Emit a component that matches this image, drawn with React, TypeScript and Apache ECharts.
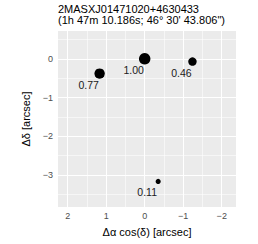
import React, { useEffect, useRef } from "react";
import * as echarts from "echarts";

const TITLE_LINE1 = "2MASXJ01471020+4630433";
const TITLE_LINE2 = "(1h 47m 10.186s; 46° 30' 43.806\")";
const pointLabels = ["1.00", "0.77", "0.46", "0.11"];
const weights = [1.0, 0.77, 0.46, 0.11];
const dRA = [0.0, 1.17, -1.24, -0.35];
const dDec = [0.0, -0.38, -0.07, -3.17];
const xTicks = [-2, -1, 0, 1, 2];
const yTicks = [-3, -2, -1, 0];
const xMinor = [-1.5, -0.5, 0.5, 1.5];
const yMinor = [-3.5, -2.5, -1.5, -0.5, 0.5];

const FONT = "Liberation Sans, Arial, sans-serif";
const fmt = (v: number) => String(v).replace("-", "\u2212");

export default function App() {
  const ref = useRef<HTMLDivElement>(null);
  useEffect(() => {
    if (!ref.current) return;
    const chart = echarts.init(ref.current, undefined, { renderer: "svg" });
    const gridLine = (vals: number[], key: string, width: number) =>
      vals.map((v) => ({ [key]: v, lineStyle: { color: "#ffffff", width, type: "solid" } }));
    chart.setOption({
      animation: false,
      backgroundColor: "#ffffff",
      title: {
        text: TITLE_LINE1 + "\n" + TITLE_LINE2,
        left: 58,
        top: 3,
        padding: 0,
        textStyle: {
          fontFamily: FONT,
          fontSize: 11,
          lineHeight: 11.5,
          fontWeight: "normal",
          color: "#000",
        },
      },
      grid: {
        left: 58,
        right: 22,
        top: 31,
        bottom: 37,
        show: true,
        backgroundColor: "#EBEBEB",
        borderWidth: 0,
      },
      xAxis: {
        type: "value",
        inverse: true,
        min: -2.37,
        max: 2.25,
        name: "\u0394\u03b1 cos(\u03b4) [arcsec]",
        nameLocation: "middle",
        nameGap: 19,
        nameTextStyle: { fontFamily: FONT, fontSize: 11, color: "#000" },
        axisLine: { show: false },
        splitLine: { show: false },
        axisTick: { show: true, length: 3, customValues: xTicks, lineStyle: { color: "#333333", width: 1 } },
        axisLabel: {
          customValues: xTicks,
          formatter: fmt,
          margin: 4,
          fontFamily: FONT,
          fontSize: 9,
          color: "#4D4D4D",
        },
      },
      yAxis: {
        type: "value",
        min: -3.83,
        max: 0.72,
        name: "\u0394\u03b4 [arcsec]",
        nameLocation: "middle",
        nameRotate: 90,
        nameGap: 22,
        nameTextStyle: { fontFamily: FONT, fontSize: 11, color: "#000" },
        axisLine: { show: false },
        splitLine: { show: false },
        axisTick: { show: true, length: 3, customValues: yTicks, lineStyle: { color: "#333333", width: 1 } },
        axisLabel: {
          customValues: yTicks,
          formatter: fmt,
          margin: 5,
          fontFamily: FONT,
          fontSize: 9,
          color: "#4D4D4D",
        },
      },
      series: [
        {
          type: "line",
          data: [],
          z: 1,
          silent: true,
          markLine: {
            z: 1,
            silent: true,
            symbol: ["none", "none"],
            label: { show: false },
            animation: false,
            data: [...gridLine(xMinor, "xAxis", 0.55), ...gridLine(yMinor, "yAxis", 0.55)],
          },
        },
        {
          type: "line",
          data: [],
          z: 1,
          silent: true,
          markLine: {
            z: 1,
            silent: true,
            symbol: ["none", "none"],
            label: { show: false },
            animation: false,
            data: [...gridLine(xTicks, "xAxis", 1.1), ...gridLine(yTicks, "yAxis", 1.1)],
          },
        },
        {
          type: "scatter",
          z: 10,
          data: dRA.map((x, i) => [x, dDec[i], weights[i], pointLabels[i]]),
          symbolSize: (v: number[]) => 2 + 9.5 * Math.sqrt(v[2]),
          itemStyle: { color: "#000", opacity: 1 },
          label: {
            show: true,
            position: "inside",
            offset: [-11, 11],
            formatter: (p: any) => p.value[3],
            fontFamily: FONT,
            fontSize: 10.5,
            color: "#1a1a1a",
          },
        },
      ],
    });
    return () => chart.dispose();
  }, []);
  return (
    <div
      ref={ref}
      style={{ position: "absolute", left: 0, top: 0, width: 258, height: 244 }}
    />
  );
}
